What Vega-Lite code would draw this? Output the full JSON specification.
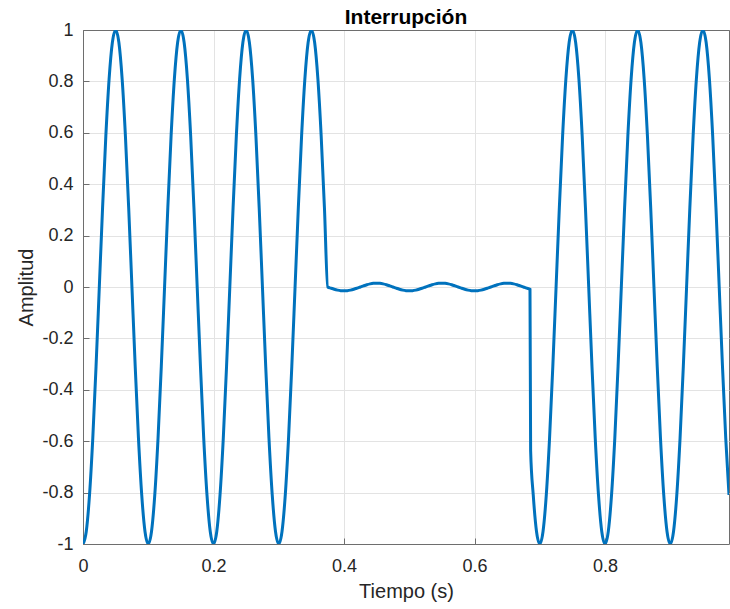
{
  "$schema": "https://vega.github.io/schema/vega-lite/v6.json",
  "autosize": {"type": "none"},
  "padding": {"left": 83, "top": 30, "right": 1, "bottom": 65},
  "width": 646,
  "height": 514,
  "background": "white",
  "title": {"text": "Interrupción", "fontSize": 21, "fontWeight": "bold", "font": "Liberation Sans", "color": "#000000", "baseline": "alphabetic", "offset": 5, "dy": 29, "anchor": "middle", "frame": "group"},
  "data": {"values": [
    {"t":0,"a":-1},{"t":0.005,"a":-0.9511},{"t":0.01,"a":-0.809},{"t":0.015,"a":-0.5878},{"t":0.02,"a":-0.309},{"t":0.025,"a":0},{"t":0.03,"a":0.309},{"t":0.035,"a":0.5878},{"t":0.04,"a":0.809},{"t":0.045,"a":0.9511},
    {"t":0.05,"a":1},{"t":0.055,"a":0.9511},{"t":0.06,"a":0.809},{"t":0.065,"a":0.5878},{"t":0.07,"a":0.309},{"t":0.075,"a":0},{"t":0.08,"a":-0.309},{"t":0.085,"a":-0.5878},{"t":0.09,"a":-0.809},{"t":0.095,"a":-0.9511},
    {"t":0.1,"a":-1},{"t":0.105,"a":-0.9511},{"t":0.11,"a":-0.809},{"t":0.115,"a":-0.5878},{"t":0.12,"a":-0.309},{"t":0.125,"a":0},{"t":0.13,"a":0.309},{"t":0.135,"a":0.5878},{"t":0.14,"a":0.809},{"t":0.145,"a":0.9511},
    {"t":0.15,"a":1},{"t":0.155,"a":0.9511},{"t":0.16,"a":0.809},{"t":0.165,"a":0.5878},{"t":0.17,"a":0.309},{"t":0.175,"a":0},{"t":0.18,"a":-0.309},{"t":0.185,"a":-0.5878},{"t":0.19,"a":-0.809},{"t":0.195,"a":-0.9511},
    {"t":0.2,"a":-1},{"t":0.205,"a":-0.9511},{"t":0.21,"a":-0.809},{"t":0.215,"a":-0.5878},{"t":0.22,"a":-0.309},{"t":0.225,"a":0},{"t":0.23,"a":0.309},{"t":0.235,"a":0.5878},{"t":0.24,"a":0.809},{"t":0.245,"a":0.9511},
    {"t":0.25,"a":1},{"t":0.255,"a":0.9511},{"t":0.26,"a":0.809},{"t":0.265,"a":0.5878},{"t":0.27,"a":0.309},{"t":0.275,"a":0},{"t":0.28,"a":-0.309},{"t":0.285,"a":-0.5878},{"t":0.29,"a":-0.809},{"t":0.295,"a":-0.9511},
    {"t":0.3,"a":-1},{"t":0.305,"a":-0.9511},{"t":0.31,"a":-0.809},{"t":0.315,"a":-0.5878},{"t":0.32,"a":-0.309},{"t":0.325,"a":0},{"t":0.33,"a":0.309},{"t":0.335,"a":0.5878},{"t":0.34,"a":0.809},{"t":0.345,"a":0.9511},
    {"t":0.35,"a":1},{"t":0.355,"a":0.9511},{"t":0.36,"a":0.809},{"t":0.365,"a":0.5878},{"t":0.37,"a":0.309},{"t":0.375,"a":0},{"t":0.38,"a":-0.0046},{"t":0.385,"a":-0.0088},{"t":0.39,"a":-0.0121},{"t":0.395,"a":-0.0143},
    {"t":0.4,"a":-0.015},{"t":0.405,"a":-0.0143},{"t":0.41,"a":-0.0121},{"t":0.415,"a":-0.0088},{"t":0.42,"a":-0.0046},{"t":0.425,"a":0},{"t":0.43,"a":0.0046},{"t":0.435,"a":0.0088},{"t":0.44,"a":0.0121},{"t":0.445,"a":0.0143},
    {"t":0.45,"a":0.015},{"t":0.455,"a":0.0143},{"t":0.46,"a":0.0121},{"t":0.465,"a":0.0088},{"t":0.47,"a":0.0046},{"t":0.475,"a":0},{"t":0.48,"a":-0.0046},{"t":0.485,"a":-0.0088},{"t":0.49,"a":-0.0121},{"t":0.495,"a":-0.0143},
    {"t":0.5,"a":-0.015},{"t":0.505,"a":-0.0143},{"t":0.51,"a":-0.0121},{"t":0.515,"a":-0.0088},{"t":0.52,"a":-0.0046},{"t":0.525,"a":0},{"t":0.53,"a":0.0046},{"t":0.535,"a":0.0088},{"t":0.54,"a":0.0121},{"t":0.545,"a":0.0143},
    {"t":0.55,"a":0.015},{"t":0.555,"a":0.0143},{"t":0.56,"a":0.0121},{"t":0.565,"a":0.0088},{"t":0.57,"a":0.0046},{"t":0.575,"a":0},{"t":0.58,"a":-0.0046},{"t":0.585,"a":-0.0088},{"t":0.59,"a":-0.0121},{"t":0.595,"a":-0.0143},
    {"t":0.6,"a":-0.015},{"t":0.605,"a":-0.0143},{"t":0.61,"a":-0.0121},{"t":0.615,"a":-0.0088},{"t":0.62,"a":-0.0046},{"t":0.625,"a":0},{"t":0.63,"a":0.0046},{"t":0.635,"a":0.0088},{"t":0.64,"a":0.0121},{"t":0.645,"a":0.0143},
    {"t":0.65,"a":0.015},{"t":0.655,"a":0.0143},{"t":0.66,"a":0.0121},{"t":0.665,"a":0.0088},{"t":0.67,"a":0.0046},{"t":0.675,"a":0},{"t":0.68,"a":-0.0046},{"t":0.685,"a":-0.0088},{"t":0.686,"a":-0.6374},{"t":0.69,"a":-0.809},{"t":0.695,"a":-0.9511},
    {"t":0.7,"a":-1},{"t":0.705,"a":-0.9511},{"t":0.71,"a":-0.809},{"t":0.715,"a":-0.5878},{"t":0.72,"a":-0.309},{"t":0.725,"a":0},{"t":0.73,"a":0.309},{"t":0.735,"a":0.5878},{"t":0.74,"a":0.809},{"t":0.745,"a":0.9511},
    {"t":0.75,"a":1},{"t":0.755,"a":0.9511},{"t":0.76,"a":0.809},{"t":0.765,"a":0.5878},{"t":0.77,"a":0.309},{"t":0.775,"a":0},{"t":0.78,"a":-0.309},{"t":0.785,"a":-0.5878},{"t":0.79,"a":-0.809},{"t":0.795,"a":-0.9511},
    {"t":0.8,"a":-1},{"t":0.805,"a":-0.9511},{"t":0.81,"a":-0.809},{"t":0.815,"a":-0.5878},{"t":0.82,"a":-0.309},{"t":0.825,"a":0},{"t":0.83,"a":0.309},{"t":0.835,"a":0.5878},{"t":0.84,"a":0.809},{"t":0.845,"a":0.9511},
    {"t":0.85,"a":1},{"t":0.855,"a":0.9511},{"t":0.86,"a":0.809},{"t":0.865,"a":0.5878},{"t":0.87,"a":0.309},{"t":0.875,"a":0},{"t":0.88,"a":-0.309},{"t":0.885,"a":-0.5878},{"t":0.89,"a":-0.809},{"t":0.895,"a":-0.9511},
    {"t":0.9,"a":-1},{"t":0.905,"a":-0.9511},{"t":0.91,"a":-0.809},{"t":0.915,"a":-0.5878},{"t":0.92,"a":-0.309},{"t":0.925,"a":0},{"t":0.93,"a":0.309},{"t":0.935,"a":0.5878},{"t":0.94,"a":0.809},{"t":0.945,"a":0.9511},
    {"t":0.95,"a":1},{"t":0.955,"a":0.9511},{"t":0.96,"a":0.809},{"t":0.965,"a":0.5878},{"t":0.97,"a":0.309},{"t":0.975,"a":0},{"t":0.98,"a":-0.309},{"t":0.985,"a":-0.5878},{"t":0.99,"a":-0.809}
  ]},
  "mark": {"type": "line", "color": "#0072BD", "strokeWidth": 3, "interpolate": "monotone", "clip": true},
  "encoding": {
    "x": {"field": "t", "type": "quantitative", "scale": {"domain": [0, 0.99], "nice": false, "zero": false},
          "axis": {"orient": "bottom", "title": "Tiempo (s)", "grid": true, "values": [0, 0.2, 0.4, 0.6, 0.8], "labelExpr": "toString(datum.value)", "tickSize": -6, "labelPadding": 19, "titlePadding": 6}},
    "y": {"field": "a", "type": "quantitative", "scale": {"domain": [-1, 1], "nice": false},
          "axis": {"orient": "left", "title": "Amplitud", "grid": true, "values": [-1, -0.8, -0.6, -0.4, -0.2, 0, 0.2, 0.4, 0.6, 0.8, 1], "labelExpr": "toString(datum.value)", "tickSize": -6, "labelPadding": 16, "titlePadding": 5,
                   "gridColor": {"condition": {"test": "datum.value === 1", "value": "#6e6e6e"}, "value": "#e3e3e3"}}}
  },
  "config": {
    "view": {"stroke": "#6e6e6e", "strokeWidth": 1},
    "axis": {
      "domainColor": "#6e6e6e",
      "domainWidth": 1,
      "tickColor": "#6e6e6e",
      "tickWidth": 1,
      "gridColor": "#e3e3e3",
      "gridWidth": 1,
      "labelFont": "Liberation Sans",
      "labelFontSize": 18,
      "labelColor": "#262626",
      "titleFont": "Liberation Sans",
      "titleFontSize": 20,
      "titleFontWeight": "normal",
      "titleColor": "#262626",
      "labelFlush": false,
      "labelOverlap": false
    }
  }
}
